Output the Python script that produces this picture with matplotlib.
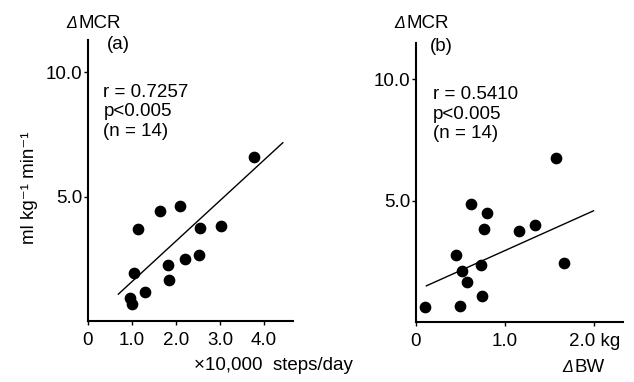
import matplotlib
matplotlib.use("Agg")
import matplotlib.pyplot as plt

plt.rcParams["font.family"] = ["Liberation Sans", "DejaVu Sans"]

# ── data ──────────────────────────────────────────────────────────────────────
steps_x = [0.95, 1.01, 1.04, 1.14, 1.29, 1.64, 1.82, 1.85, 2.09, 2.21, 2.52, 2.55, 3.02, 3.77]
steps_y = [0.92, 0.67, 1.95, 3.70, 1.16, 4.44, 2.26, 1.65, 4.61, 2.50, 2.67, 3.75, 3.80, 6.60]
steps_fit_x = [0.69, 4.43]
steps_fit_y = [1.08, 7.17]

bw_x = [0.10, 0.50, 0.45, 0.52, 0.57, 0.62, 0.74, 0.73, 0.76, 0.80, 1.16, 1.33, 1.57, 1.66]
bw_y = [0.60, 0.67, 2.74, 2.11, 1.63, 4.86, 1.08, 2.33, 3.84, 4.50, 3.76, 3.99, 6.74, 2.42]
bw_fit_x = [0.12, 1.99]
bw_fit_y = [1.49, 4.58]

y_ticks = [5.0, 10.0]
y_tick_labels = ["5.0", "10.0"]
steps_ticks = [0, 1.0, 2.0, 3.0, 4.0]
steps_tick_labels = ["0", "1.0", "2.0", "3.0", "4.0"]
bw_ticks = [0, 1.0, 2.0]
bw_tick_labels = ["0", "1.0", "2.0 kg"]

stats_a = "r = 0.7257\np<0.005\n(n = 14)"
stats_b = "r = 0.5410\np<0.005\n(n = 14)"

FS = 13.5

fig = plt.figure(figsize=(6.34, 3.82), dpi=100)
ax_a = fig.add_axes([0.1388, 0.1597, 0.3233, 0.7356])
ax_b = fig.add_axes([0.6556, 0.157, 0.327, 0.731])


def style(ax, xlim, ylim, xticks, xlabels):
    for s in ["top", "right"]:
        ax.spines[s].set_visible(False)
    for s in ["left", "bottom"]:
        ax.spines[s].set_linewidth(1.5)
    ax.set_xlim(*xlim)
    ax.set_ylim(*ylim)
    ax.set_xticks(xticks)
    ax.set_xticklabels(xlabels, fontsize=FS)
    ax.set_yticks(y_ticks)
    ax.set_yticklabels(y_tick_labels, fontsize=FS)
    ax.tick_params(axis="both", length=3, width=1)
    ax.tick_params(axis="y", pad=1)
    ax.tick_params(axis="x", pad=5)


def delta_label(x_px, y_px, word):
    # italic delta followed by the word, placed in pixel coords
    fx, fy = x_px / 634, 1 - y_px / 382
    fig.text(fx, fy - 0.002, "Δ", fontsize=FS - 2, style="italic", va="center")
    fig.text(fx + 12 / 634, fy, word, fontsize=FS, va="center")


# panel (a)
ax_a.scatter(steps_x, steps_y, s=55, color="black", zorder=3, clip_on=False)
ax_a.plot(steps_fit_x, steps_fit_y, color="black", lw=1.0)
style(ax_a, (0, 4.66), (0, 11.3), steps_ticks, steps_tick_labels)
ax_a.text(0.09, 0.985, "(a)", transform=ax_a.transAxes, fontsize=FS, va="center")
ax_a.text(0.075, 0.845, stats_a, transform=ax_a.transAxes, fontsize=FS,
          va="top", linespacing=1.2)
delta_label(66, 23, "MCR")
fig.text(30 / 634, 1 - 188 / 382, "ml kg⁻¹ min⁻¹", fontsize=FS,
         rotation=90, ha="center", va="center")
fig.text(273 / 634, 1 - 365 / 382, "×10,000  steps/day", fontsize=FS,
         ha="center", va="center")

# panel (b)
ax_b.scatter(bw_x, bw_y, s=55, color="black", zorder=3, clip_on=False)
ax_b.plot(bw_fit_x, bw_fit_y, color="black", lw=1.0)
style(ax_b, (0, 2.32), (0, 11.5), bw_ticks, bw_tick_labels)
ax_b.text(0.07, 0.985, "(b)", transform=ax_b.transAxes, fontsize=FS, va="center")
ax_b.text(0.085, 0.845, stats_b, transform=ax_b.transAxes, fontsize=FS,
          va="top", linespacing=1.2)
delta_label(394, 23, "MCR")
delta_label(562, 367, "BW")

fig.savefig("out.png", dpi=100)
